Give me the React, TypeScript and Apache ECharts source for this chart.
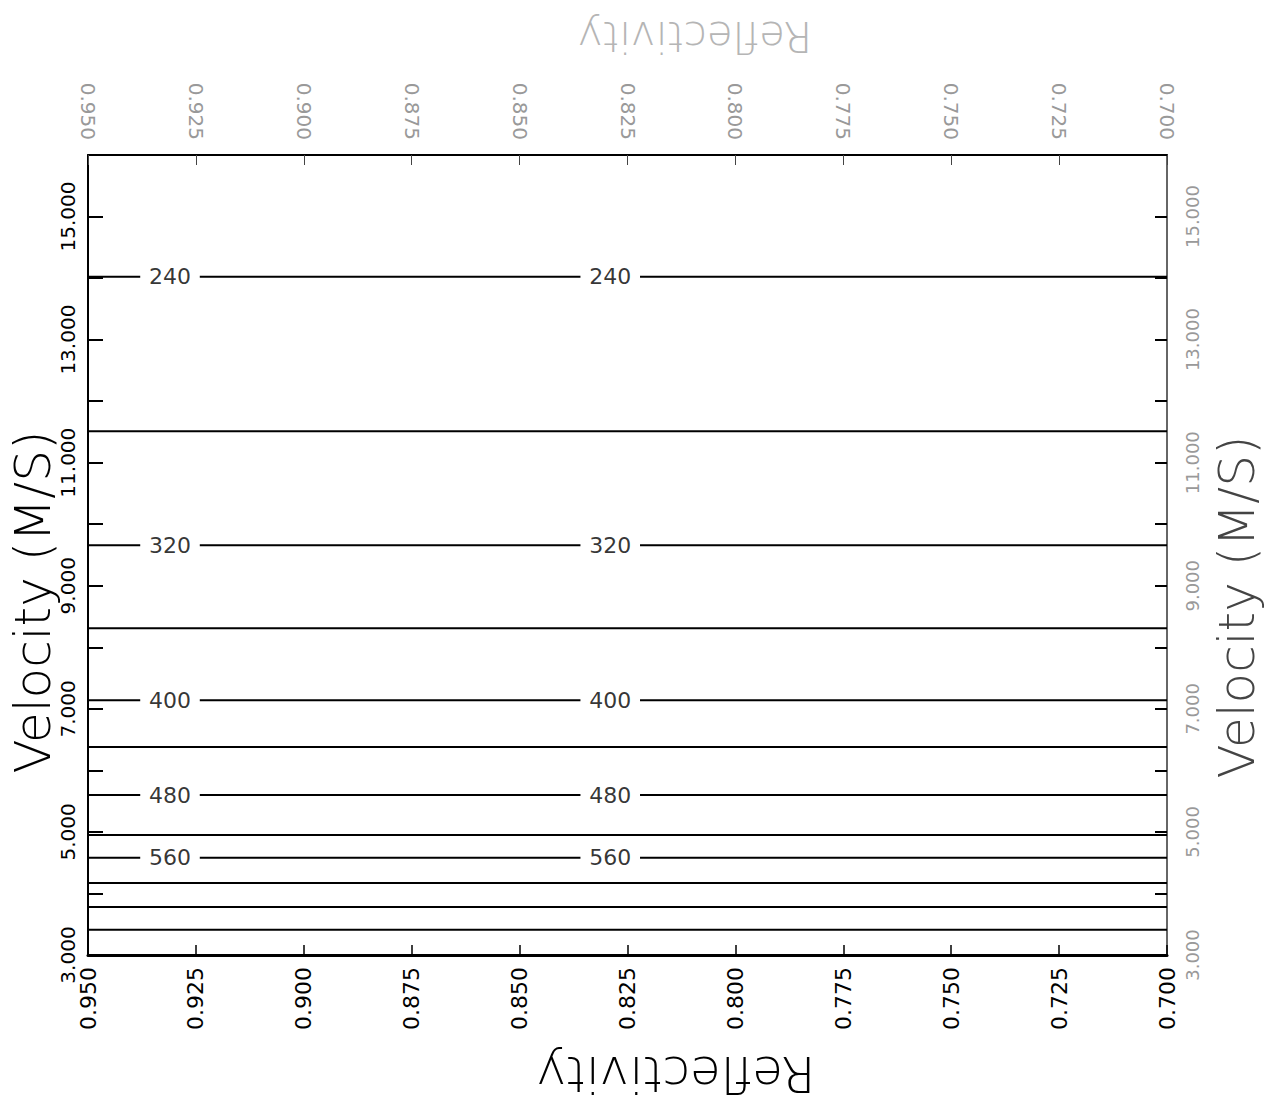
import React, { useEffect, useRef } from "react";
import * as echarts from "echarts";

// Contour temperatures and the velocity (M/S, in thousands) at which each contour sits
const temperatures = [240, 280, 320, 360, 400, 440, 480, 520, 560, 600, 640, 680];
const velocities = [14.02, 11.51, 9.66, 8.31, 7.14, 6.38, 5.6, 4.95, 4.58, 4.17, 3.78, 3.41];
const labeledTemps = [240, 320, 400, 480, 560];
// Reflectivity where the inline contour labels sit
const labelReflectivity = [0.931, 0.829];

const xMin = 0.7;
const xMax = 0.95;
const xStep = 0.025;
const yMin = 3;
const yMax = 16;
const yStep = 1;

const FONT = "DejaVu Sans";

export default function App() {
  const ref = useRef<HTMLDivElement>(null);

  useEffect(() => {
    if (!ref.current) return;
    const chart = echarts.init(ref.current, undefined, { renderer: "svg" });
    const gapHalf = 0.0069;

    const lineSeries = temperatures.map((t, i) => {
      const v = velocities[i];
      let data: any[];
      if (labeledTemps.includes(t)) {
        data = [[xMax, v]];
        labelReflectivity.forEach((lx) => {
          data.push([lx + gapHalf, v]);
          data.push([lx, "-"]);
          data.push([lx - gapHalf, v]);
        });
        data.push([xMin, v]);
      } else {
        data = [
          [xMax, v],
          [xMin, v],
        ];
      }
      return {
        type: "line",
        name: String(t),
        data,
        showSymbol: false,
        symbol: "none",
        connectNulls: false,
        lineStyle: { color: "#000", width: 2 },
        silent: true,
        z: 3,
      };
    });

    const labelData: any[] = [];
    temperatures.forEach((t, i) => {
      if (labeledTemps.includes(t)) {
        labelReflectivity.forEach((lx) => labelData.push([lx, velocities[i], t]));
      }
    });

    const yFmt = (v: number) => {
      const k = Math.round(v - yMin);
      return k % 2 === 0 ? v.toFixed(3) : "";
    };
    const xFmt = (v: number) => v.toFixed(3);

    const option: any = {
      animation: false,
      backgroundColor: "#fff",
      grid: { left: 88, right: 110, top: 155, bottom: 152, containLabel: false },
      xAxis: [
        {
          type: "value",
          position: "bottom",
          min: xMin,
          max: xMax,
          interval: xStep,
          inverse: true,
          axisLine: { show: true, lineStyle: { color: "#000", width: 3 } },
          axisTick: { show: true, inside: true, length: 10, lineStyle: { color: "#000", width: 1.5 } },
          splitLine: { show: false },
          axisLabel: {
            rotate: 90,
            formatter: xFmt,
            fontFamily: FONT,
            fontSize: 22,
            color: "#000",
            margin: 12,
            showMinLabel: true,
            showMaxLabel: true,
          },
        },
        {
          type: "value",
          position: "top",
          min: xMin,
          max: xMax,
          interval: xStep,
          inverse: true,
          axisLine: { show: true, lineStyle: { color: "#000", width: 2 } },
          axisTick: { show: true, inside: true, length: 10, lineStyle: { color: "#444", width: 1 } },
          splitLine: { show: false },
          axisLabel: {
            rotate: 90,
            formatter: xFmt,
            fontFamily: FONT,
            fontSize: 20,
            color: "#999",
            margin: 15,
            showMinLabel: true,
            showMaxLabel: true,
          },
        },
      ],
      yAxis: [
        {
          type: "value",
          position: "left",
          min: yMin,
          max: yMax,
          interval: yStep,
          axisLine: { show: true, lineStyle: { color: "#000", width: 2 } },
          axisTick: { show: true, inside: true, length: 15, lineStyle: { color: "#000", width: 2 } },
          splitLine: { show: false },
          axisLabel: {
            rotate: 90,
            formatter: yFmt,
            fontFamily: FONT,
            fontSize: 20,
            color: "#000",
            margin: 10,
            showMinLabel: true,
          },
        },
        {
          type: "value",
          position: "right",
          min: yMin,
          max: yMax,
          interval: yStep,
          axisLine: { show: true, lineStyle: { color: "#333", width: 1.5 } },
          axisTick: { show: true, inside: true, length: 12, lineStyle: { color: "#000", width: 2 } },
          splitLine: { show: false },
          axisLabel: {
            rotate: 90,
            formatter: yFmt,
            fontFamily: FONT,
            fontSize: 18,
            color: "#999",
            margin: 16,
            showMinLabel: true,
          },
        },
      ],
      series: [
        ...lineSeries,
        {
          type: "scatter",
          data: labelData,
          symbolSize: 0,
          silent: true,
          z: 4,
          label: {
            show: true,
            position: "inside",
            formatter: (p: any) => String(p.value[2]),
            fontFamily: FONT,
            fontSize: 22,
            color: "#000",
          },
        },
      ],
      graphic: [
        {
          type: "text",
          x: 33,
          y: 602,
          rotation: Math.PI / 2,
          style: {
            text: "Velocity (M/S)",
            fontFamily: FONT,
            fontSize: 50,
            fontWeight: 200,
            fill: "#000",
            align: "center",
            verticalAlign: "middle",
          },
        },
        {
          type: "text",
          x: 1237,
          y: 607,
          rotation: Math.PI / 2,
          style: {
            text: "Velocity (M/S)",
            fontFamily: FONT,
            fontSize: 50,
            fontWeight: 200,
            fill: "#444",
            align: "center",
            verticalAlign: "middle",
          },
        },
        {
          type: "text",
          x: 676,
          y: 1074,
          rotation: Math.PI,
          style: {
            text: "Reflectivity",
            fontFamily: FONT,
            fontSize: 50,
            fontWeight: 200,
            fill: "#000",
            align: "center",
            verticalAlign: "middle",
          },
        },
        {
          type: "text",
          x: 695,
          y: 36,
          rotation: Math.PI,
          style: {
            text: "Reflectivity",
            fontFamily: FONT,
            fontSize: 42,
            fontWeight: 200,
            fill: "#b5b5b5",
            align: "center",
            verticalAlign: "middle",
          },
        },
      ],
    };

    chart.setOption(option);
    return () => chart.dispose();
  }, []);

  return (
    <div
      ref={ref}
      style={{ position: "fixed", left: 0, top: 0, width: 1277, height: 1107, background: "#fff" }}
    />
  );
}
